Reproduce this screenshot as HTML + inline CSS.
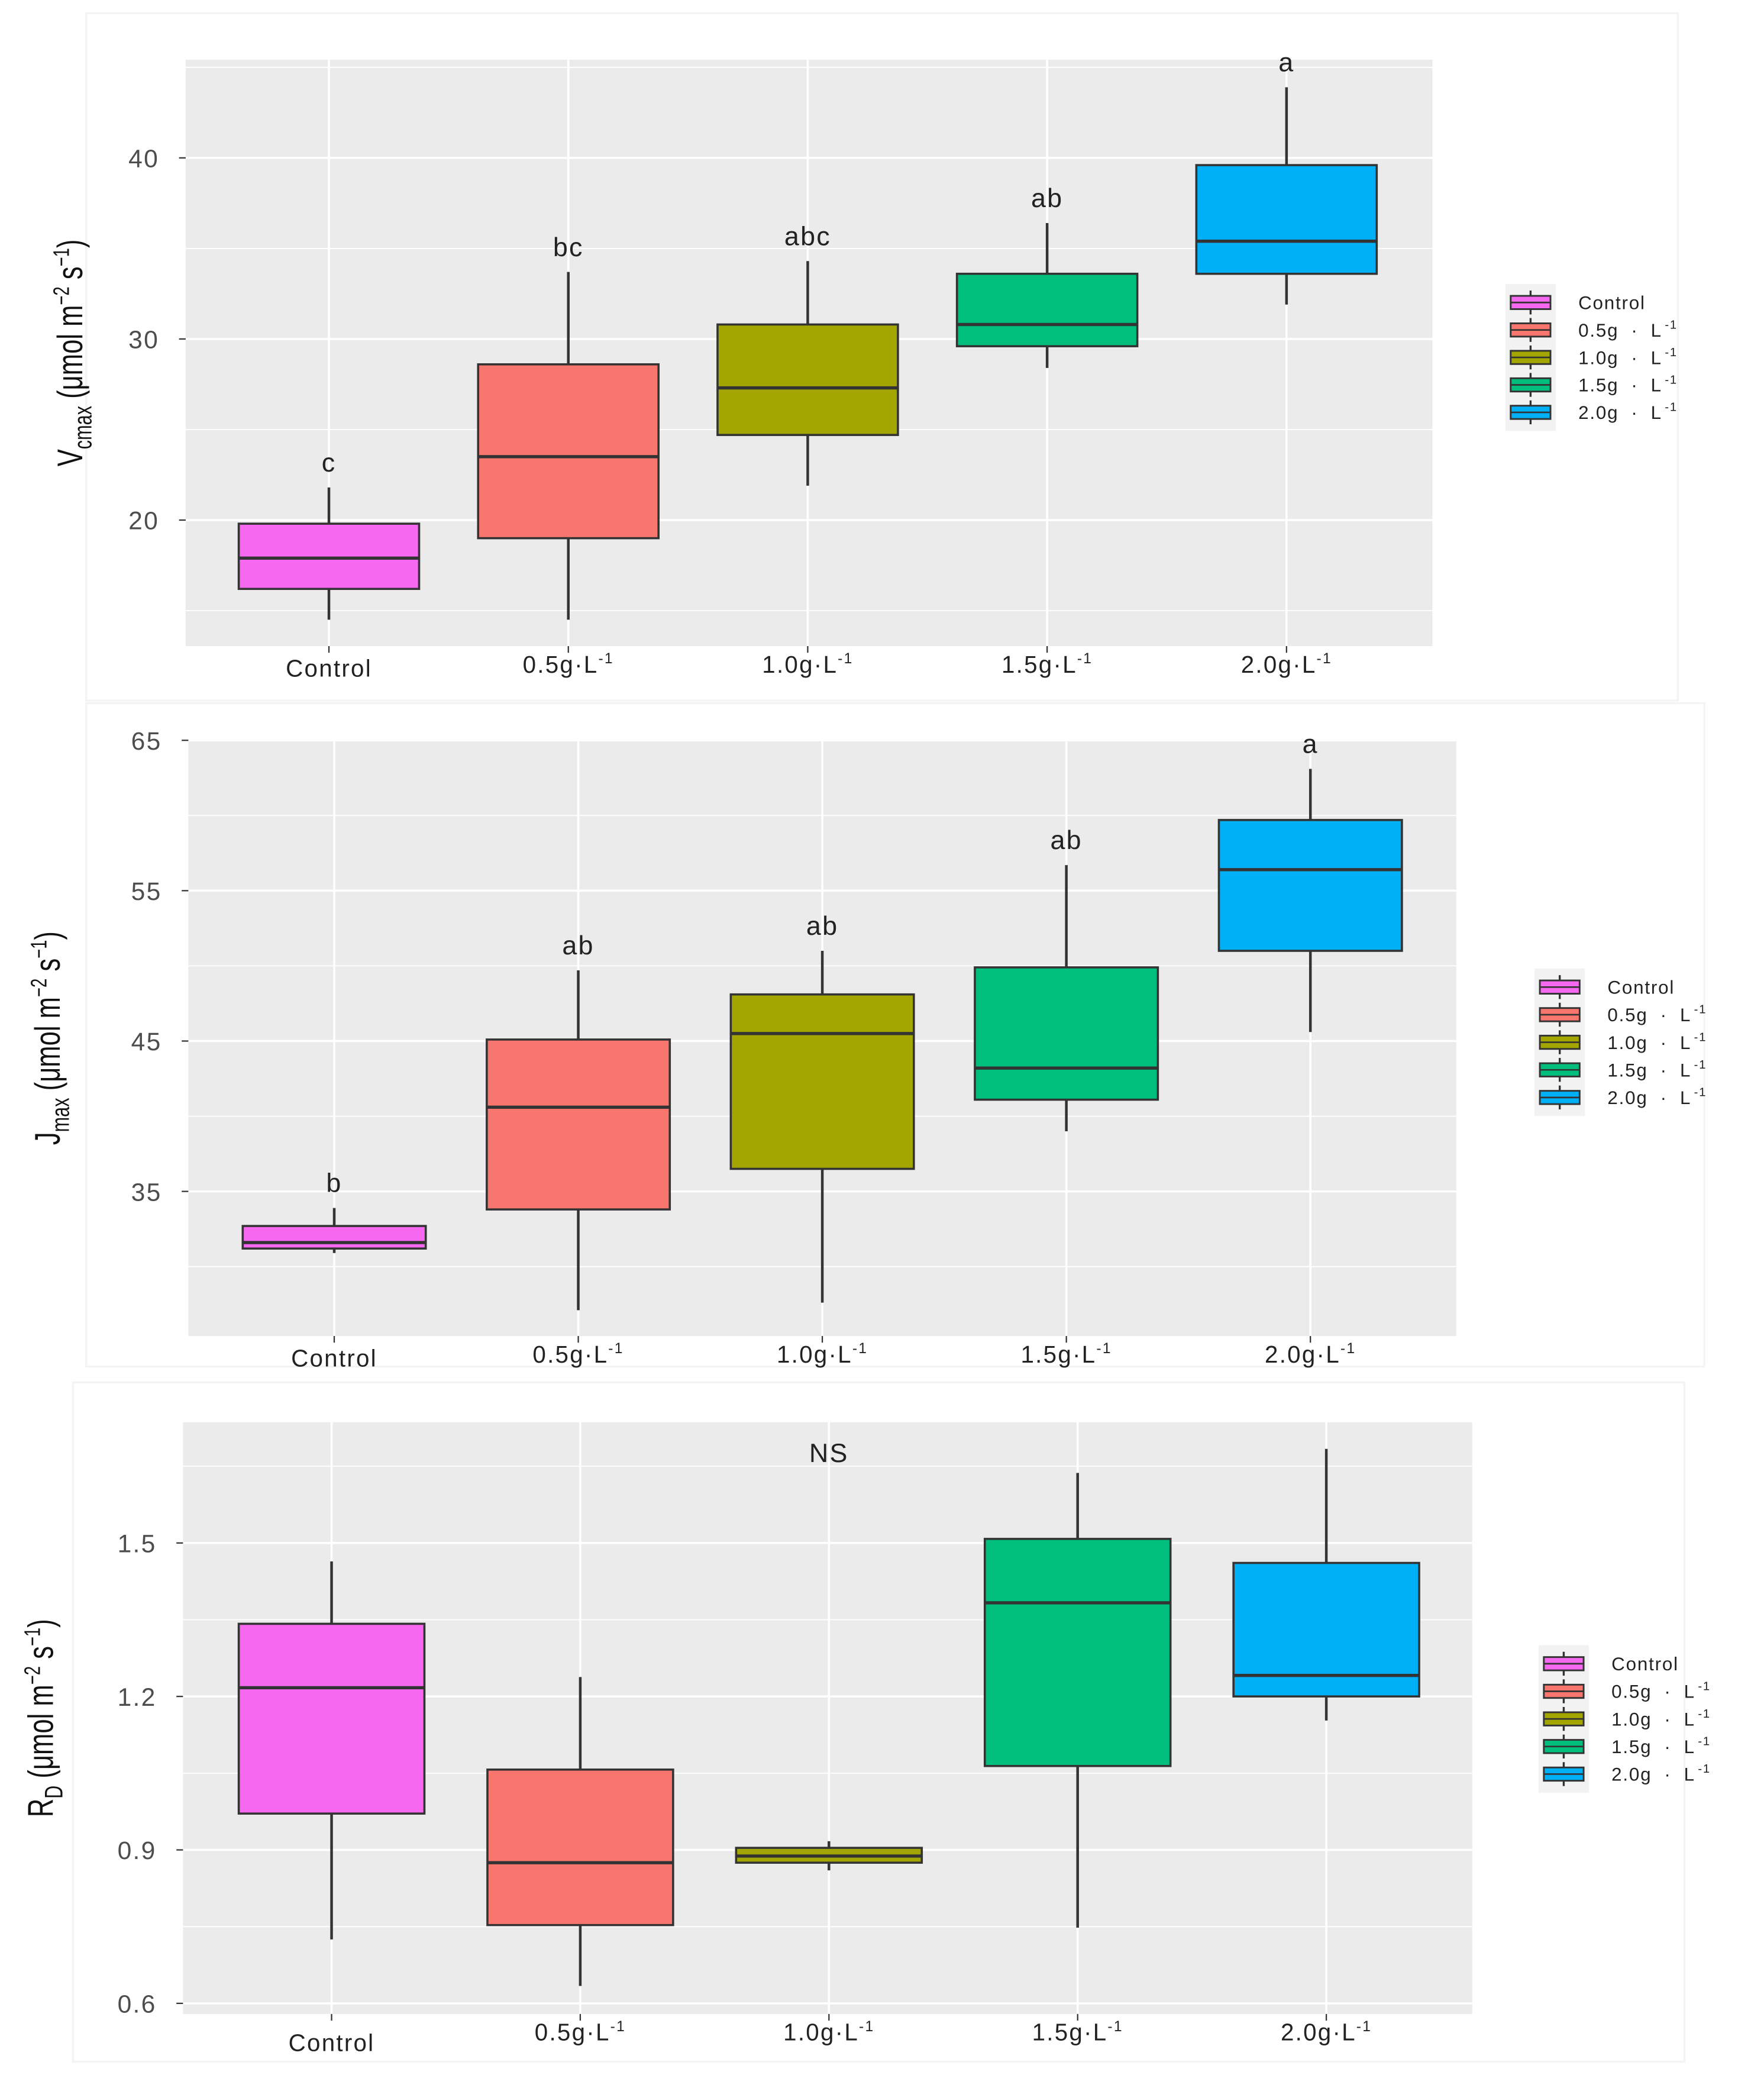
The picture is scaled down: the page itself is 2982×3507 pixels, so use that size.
<!DOCTYPE html>
<html><head><meta charset="utf-8">
<style>
html,body{margin:0;padding:0;background:#fff;}
svg{display:block;}
text{font-family:"Liberation Sans",sans-serif;}
</style></head>
<body>
<svg id="fig" width="2982" height="3507" viewBox="0 0 1330 1564" preserveAspectRatio="none" xmlns="http://www.w3.org/2000/svg"></svg>
<script>
const categories = ["Control","0.5g","1.0g","1.5g","2.0g"];
const colors = ["#F768F0","#F8766D","#A3A500","#00BF7D","#00B0F6"];
// Vcmax
const vLow = [14.5,14.5,21.9,28.4,31.9];
const vQ1 = [16.2,19.0,24.7,29.6,33.6];
const vMed = [17.9,23.5,27.3,30.8,35.4];
const vQ3 = [19.8,28.6,30.8,33.6,39.6];
const vHigh = [21.8,33.7,34.3,36.4,43.9];
const vLetters = ["c","bc","abc","ab","a"];
const vTicks = [20,30,40];
// Jmax
const jLow = [30.9,27.1,27.6,39.0,45.6];
const jQ1 = [31.2,33.8,36.5,41.1,51.0];
const jMed = [31.6,40.6,45.5,43.2,56.4];
const jQ3 = [32.7,45.1,48.1,49.9,59.7];
const jHigh = [33.9,49.7,51.0,56.7,63.1];
const jLetters = ["b","ab","ab","ab","a"];
const jTicks = [35,45,55,65];
// RD
const rLow = [0.725,0.634,0.860,0.748,1.153];
const rQ1 = [0.971,0.753,0.875,1.064,1.200];
const rMed = [1.217,0.875,0.888,1.383,1.241];
const rQ3 = [1.342,1.057,0.904,1.508,1.461];
const rHigh = [1.464,1.238,0.917,1.637,1.684];
const rLetters = ["","","","",""];
const rTicks = [0.6,0.9,1.2,1.5];

const NS="http://www.w3.org/2000/svg";
const svg=document.getElementById('fig');
function mk(tag,attrs,parent){const e=document.createElementNS(NS,tag);for(const k in attrs)e.setAttribute(k,attrs[k]);(parent||svg).appendChild(e);return e;}

function panel(cfg){
  const g=mk('g',{});
  
  
  const y=v=>cfg.py0+(v-cfg.v0)*(cfg.py1-cfg.py0)/(cfg.v1-cfg.v0);
  const xs=i=>cfg.cx0+i*cfg.dx;
  const bg=mk('rect',{x:cfg.L,y:cfg.T,width:cfg.R-cfg.L,height:cfg.B-cfg.T,fill:'#EBEBEB'},g);
  
  
  const step=cfg.ticks[1]-cfg.ticks[0];
  for(let k=-4;k<cfg.ticks.length*2+4;k++){
    const t=cfg.ticks[0]+k*step/2;
    const yy=y(t); if(yy<cfg.T||yy>cfg.B)continue;
    const major=(k%2===0);
    const ln=mk('line',{x1:cfg.L,x2:cfg.R,y1:yy,y2:yy,stroke:'#fff','stroke-width':major?1.6:0.8},g);
    
    
  }
  categories.forEach((c,i)=>{
    const ln=mk('line',{x1:xs(i),x2:xs(i),y1:cfg.T,y2:cfg.B,stroke:'#fff','stroke-width':1.6},g);
    
    
  });
  cfg.ticks.forEach((t,k)=>{
    const yy=y(t);
    const tk=mk('line',{x1:cfg.L-5,x2:cfg.L,y1:yy,y2:yy,stroke:'#333','stroke-width':1},g);
    
    
    const tx=mk('text',{x:cfg.L-20,y:yy+7,'text-anchor':'end','font-size':19,fill:'#4D4D4D','letter-spacing':1},g);
    tx.textContent=cfg.tickLabels?cfg.tickLabels[k]:String(t);
    
    
  });
  const labels=["Control","0.5g\u00b7L","1.0g\u00b7L","1.5g\u00b7L","2.0g\u00b7L"];
  categories.forEach((c,i)=>{
    const x=xs(i);
    const tk=mk('line',{x1:x,x2:x,y1:cfg.B,y2:cfg.B+5,stroke:'#333','stroke-width':1},g);
    
    
    const tx=mk('text',{x:x,y:cfg.B+20,'text-anchor':'middle','font-size':18,fill:'#222','letter-spacing':1},g);
    
    
    if(i===0){tx.textContent='Control';tx.setAttribute('y',cfg.B+20+(cfg.ctrlDy||0));}
    else{tx.textContent=labels[i];const s=mk('tspan',{dy:-7,'font-size':11},tx);s.textContent='-1';}
    const w=cfg.bw;
    const wh=mk('line',{x1:x,x2:x,y1:y(cfg.high[i]),y2:y(cfg.low[i]),stroke:'#333','stroke-width':2},g);
    
    
    const bx=mk('rect',{x:x-w/2,y:y(cfg.q3[i]),width:w,height:Math.abs(y(cfg.q1[i])-y(cfg.q3[i])),fill:colors[i],stroke:'#333','stroke-width':1.6},g);
    
    
    const md=mk('line',{x1:x-w/2,x2:x+w/2,y1:y(cfg.med[i]),y2:y(cfg.med[i]),stroke:'#333','stroke-width':2.4},g);
    
    
    if(cfg.letters[i]){
      const lt=mk('text',{x:x,y:y(cfg.high[i])-12,'text-anchor':'middle','font-size':20,fill:'#222','letter-spacing':1},g);
      lt.textContent=cfg.letters[i];
      
      
    }
  });
  const yt=mk('text',{transform:`translate(${cfg.titleX},${(cfg.T+cfg.B)/2}) rotate(-90) scale(0.72,1)`,'text-anchor':'middle','font-size':27,fill:'#111'},g);
  
  
  const a=mk('tspan',{},yt);a.textContent=cfg.titleMain;
  const b=mk('tspan',{dy:7,'font-size':19},yt);b.textContent=cfg.titleSub;
  const c2=mk('tspan',{dy:-7},yt);c2.textContent=' (\u03bcmol m';
  const d=mk('tspan',{dy:-10,'font-size':17},yt);d.textContent='\u22122';
  const e=mk('tspan',{dy:10},yt);e.textContent=' s';
  const f=mk('tspan',{dy:-10,'font-size':17},yt);f.textContent='\u22121';
  const h=mk('tspan',{dy:10},yt);h.textContent=')';
  const lg=mk('g',{},svg);
  
  
  const lb=mk('rect',{x:cfg.lx-3,y:cfg.ly-14,width:38,height:cfg.lstep*4+28,fill:'#F2F2F2'},lg);
  
  
  const lt=["Control","0.5g  \u00b7  L","1.0g  \u00b7  L","1.5g  \u00b7  L","2.0g  \u00b7  L"];
  categories.forEach((c,i)=>{
    const yy=cfg.ly+i*cfg.lstep;
    const ke=mk('g',{},lg);
    
    
    mk('line',{x1:cfg.lx+16,x2:cfg.lx+16,y1:yy-9,y2:yy+9,stroke:'#333','stroke-width':1.5},ke);
    mk('rect',{x:cfg.lx+1,y:yy-5,width:30,height:10,fill:colors[i],stroke:'#333','stroke-width':1.3},ke);
    mk('line',{x1:cfg.lx+1,x2:cfg.lx+31,y1:yy,y2:yy,stroke:'#333','stroke-width':1.2},ke);
    const tx=mk('text',{x:cfg.lx+52,y:yy+5,'font-size':14,fill:'#222','letter-spacing':0.8,'xml:space':'preserve'},ke);
    tx.style.whiteSpace='pre';
    tx.textContent=lt[i];
    if(i>0){const s=mk('tspan',{dx:2,dy:-6,'font-size':9},tx);s.textContent='-1';}
  });
}

[[65,10,1200,518],[65,530,1220,500],[55,1042,1215,512]].forEach(r=>{
  const fr=mk('rect',{x:r[0],y:r[1],width:r[2],height:r[3],fill:'none',stroke:'#F4F4F4','stroke-width':1.5});
  
  
});

panel({name:'vcmax-panel',L:140,R:1080,T:45,B:487,v0:40,v1:20,py0:119,py1:392,cx0:248,dx:180.5,bw:136,
  ticks:vTicks,low:vLow,q1:vQ1,med:vMed,q3:vQ3,high:vHigh,letters:vLetters,titleX:62,titleMain:'V',titleSub:'cmax',
  lx:1138,ly:228,lstep:20.7,ctrlDy:3});
panel({name:'jmax-panel',L:142,R:1098,T:558,B:1007,v0:65,v1:35,py0:558,py1:898,cx0:252,dx:184,bw:138,
  ticks:jTicks,low:jLow,q1:jQ1,med:jMed,q3:jQ3,high:jHigh,letters:jLetters,titleX:45,titleMain:'J',titleSub:'max',
  lx:1160,ly:744,lstep:20.8,ctrlDy:3});
panel({name:'rd-panel',L:138,R:1110,T:1072,B:1518,v0:1.5,v1:0.6,py0:1163,py1:1510,cx0:250,dx:187.5,bw:140,
  ticks:rTicks,tickLabels:["0.6","0.9","1.2","1.5"],low:rLow,q1:rQ1,med:rMed,q3:rQ3,high:rHigh,letters:rLetters,titleX:40,titleMain:'R',titleSub:'D',
  lx:1163,ly:1254,lstep:20.8,ctrlDy:8});
const ns=mk('text',{x:625,y:1102,'text-anchor':'middle','font-size':20,fill:'#222','letter-spacing':1});
ns.textContent='NS';


</script>
</body></html>
